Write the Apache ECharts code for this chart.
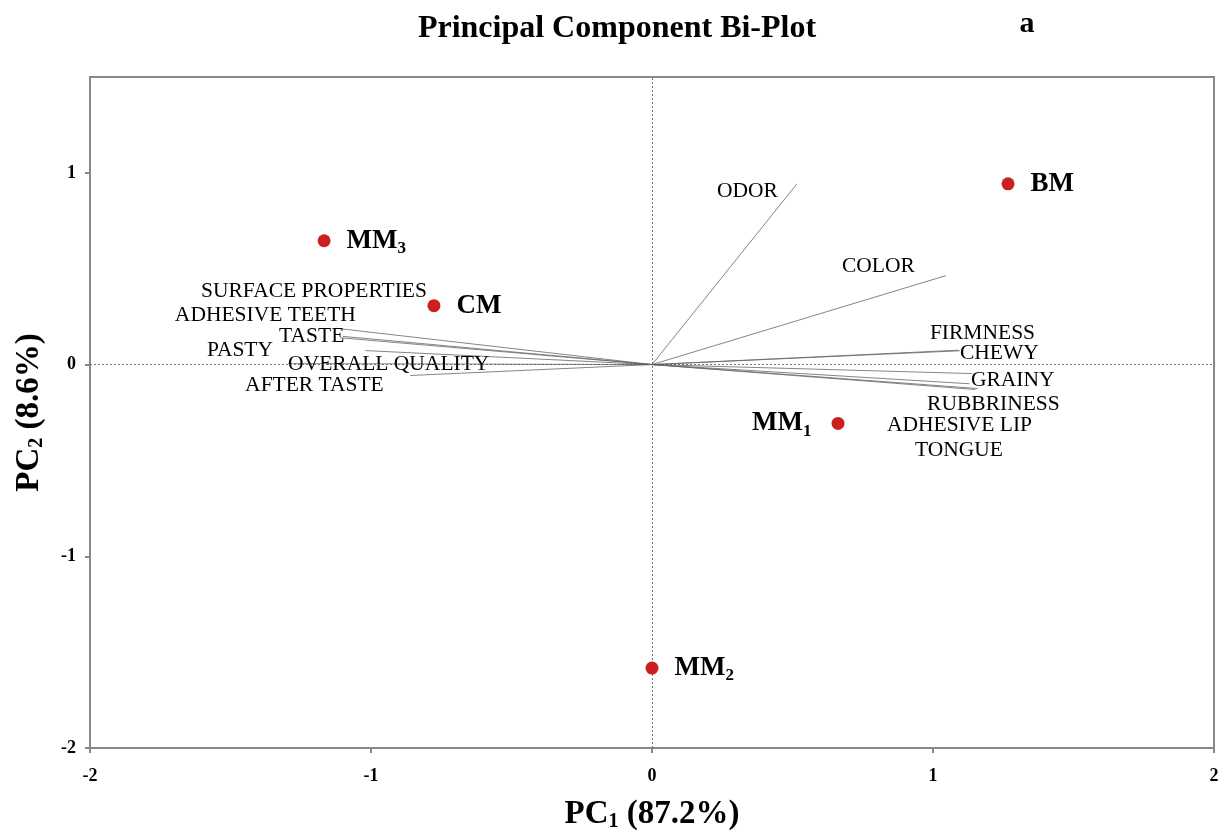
<!DOCTYPE html>
<html>
<head>
<meta charset="utf-8">
<script src="https://cdn.jsdelivr.net/npm/echarts@6/dist/echarts.min.js"></script>
<style>html,body{margin:0;padding:0;background:#fff;}#chart{width:1226px;height:835px;}</style>
</head>
<body>
<div id="chart"></div>
<script>
// Sample scores
const sampleNames = ['BM', 'MM3', 'CM', 'MM1', 'MM2'];
const sampleLabels = ['BM', 'MM{sub|3}', 'CM', 'MM{sub|1}', 'MM{sub|2}'];
const samplePC1 = [1.267, -1.167, -0.776, 0.662, 0.0];
const samplePC2 = [0.943, 0.646, 0.307, -0.307, -1.583];

// Variable loadings (vector end points)
const varNames = ['ODOR', 'COLOR', 'FIRMNESS', 'CHEWY', 'GRAINY', 'RUBBRINESS', 'ADHESIVE LIP', 'TONGUE',
  'SURFACE PROPERTIES', 'ADHESIVE TEETH', 'TASTE', 'PASTY', 'OVERALL QUALITY', 'AFTER TASTE'];
const varPC1 = [0.516, 1.046, 1.09, 1.096, 1.14, 1.16, 1.13, 1.15, -1.122, -1.10, -1.11, -1.02, -1.295, -0.86];
const varPC2 = [0.943, 0.464, 0.075, 0.072, -0.047, -0.125, -0.10, -0.13, 0.189, 0.147, 0.14, 0.073, 0.005, -0.057];
// Label anchor (left edge, vertical centre) for each variable name, in data units
const varLabelX = [0.231, 0.676, 0.989, 1.096, 1.135, 0.979, 0.836, 0.936, -1.605, -1.698, -1.327, -1.584, -1.295, -1.448];
const varLabelY = [0.906, 0.51, 0.161, 0.057, -0.083, -0.208, -0.318, -0.448, 0.380, 0.255, 0.146, 0.073, 0.0, -0.109];

// Axis ticks
const xTicks = [-2, -1, 0, 1, 2];
const yTicks = [-2, -1, 0, 1];

const serif = '"Liberation Serif", "Times New Roman", serif';
const chart = echarts.init(document.getElementById('chart'), null, {renderer: 'canvas'});

const sampleData = sampleNames.map((n, i) => ({
  value: [samplePC1[i], samplePC2[i]],
  label: {
    position: n === 'MM1' ? 'left' : 'right',
    distance: n === 'MM1' ? 20 : 16,
    formatter: sampleLabels[i]
  }
}));

const vectorData = varNames.map((n, i) => ({coords: [[0, 0], [varPC1[i], varPC2[i]]]}));
const varLabelData = varNames.map((n, i) => ({value: [varLabelX[i], varLabelY[i]], name: n}));

const option = {
  backgroundColor: '#fff',
  animation: false,
  title: [{
    text: 'Principal Component Bi-Plot',
    left: 612, top: 8, textAlign: 'center',
    textStyle: {fontFamily: serif, fontWeight: 'bold', fontSize: 32, color: '#000'}
  }, {
    text: 'a',
    left: 1022, top: 4, textAlign: 'center',
    textStyle: {fontFamily: serif, fontWeight: 'bold', fontSize: 30, color: '#000'}
  }],
  grid: {left: 90, right: 12, top: 77, bottom: 87, outerBoundsMode: 'none', containLabel: false,
    show: true, borderColor: '#888', borderWidth: 2, backgroundColor: 'transparent'},
  xAxis: {
    type: 'value', min: -2, max: 2, interval: 1,
    name: 'PC{sub|1} (87.2%)', nameLocation: 'middle', nameGap: 48,
    nameTextStyle: {fontFamily: serif, fontWeight: 'bold', fontSize: 33, color: '#000',
      rich: {sub: {fontFamily: serif, fontWeight: 'bold', fontSize: 20, verticalAlign: 'bottom', padding: [16, 0, 0, 0]}}},
    axisLine: {show: true, onZero: false, lineStyle: {color: '#888', width: 2}},
    axisTick: {show: true, length: 5, customValues: xTicks, lineStyle: {color: '#888', width: 2}},
    axisLabel: {fontFamily: serif, fontWeight: 'bold', fontSize: 18, color: '#000', margin: 19,
      customValues: xTicks, formatter: v => String(v)},
    splitLine: {show: false}
  },
  yAxis: {
    type: 'value', min: -2, max: 1.5, interval: 1,
    name: 'PC{sub|2} (8.6%)', nameLocation: 'middle', nameGap: 43, nameRotate: 90,
    nameTextStyle: {fontFamily: serif, fontWeight: 'bold', fontSize: 33, color: '#000',
      rich: {sub: {fontFamily: serif, fontWeight: 'bold', fontSize: 20, verticalAlign: 'bottom', padding: [16, 0, 0, 0]}}},
    axisLine: {show: true, onZero: false, lineStyle: {color: '#888', width: 2}},
    axisTick: {show: true, length: 5, customValues: yTicks, lineStyle: {color: '#888', width: 2}},
    axisLabel: {fontFamily: serif, fontWeight: 'bold', fontSize: 18, color: '#000', margin: 14,
      customValues: yTicks, formatter: v => String(v)},
    splitLine: {show: false}
  },
  series: [
    {
      type: 'line', data: [], silent: true,
      markLine: {
        silent: true, symbol: 'none', label: {show: false},
        lineStyle: {color: '#555', type: [2, 2], width: 0.8},
        data: [{xAxis: 0}, {yAxis: 0}]
      }
    },
    {
      type: 'lines', coordinateSystem: 'cartesian2d', silent: true,
      lineStyle: {color: '#666', width: 0.8, opacity: 1},
      data: vectorData, z: 3
    },
    {
      type: 'scatter', symbolSize: 0, silent: true, z: 4,
      itemStyle: {opacity: 1},
      data: varLabelData,
      label: {show: true, position: 'right', distance: 0, formatter: p => p.name,
        fontFamily: serif, fontSize: 21.5, color: '#000', opacity: 1}
    },
    {
      type: 'scatter', symbol: 'circle', symbolSize: 13, z: 5, silent: true,
      itemStyle: {color: '#cc1f1f', opacity: 1},
      data: sampleData,
      label: {show: true, fontFamily: serif, fontWeight: 'bold', fontSize: 27, color: '#000', opacity: 1,
        rich: {sub: {fontFamily: serif, fontWeight: 'bold', fontSize: 17, verticalAlign: 'bottom', padding: [16, 0, 0, 0]}}}
    }
  ]
};
chart.setOption(option);
</script>
</body>
</html>
